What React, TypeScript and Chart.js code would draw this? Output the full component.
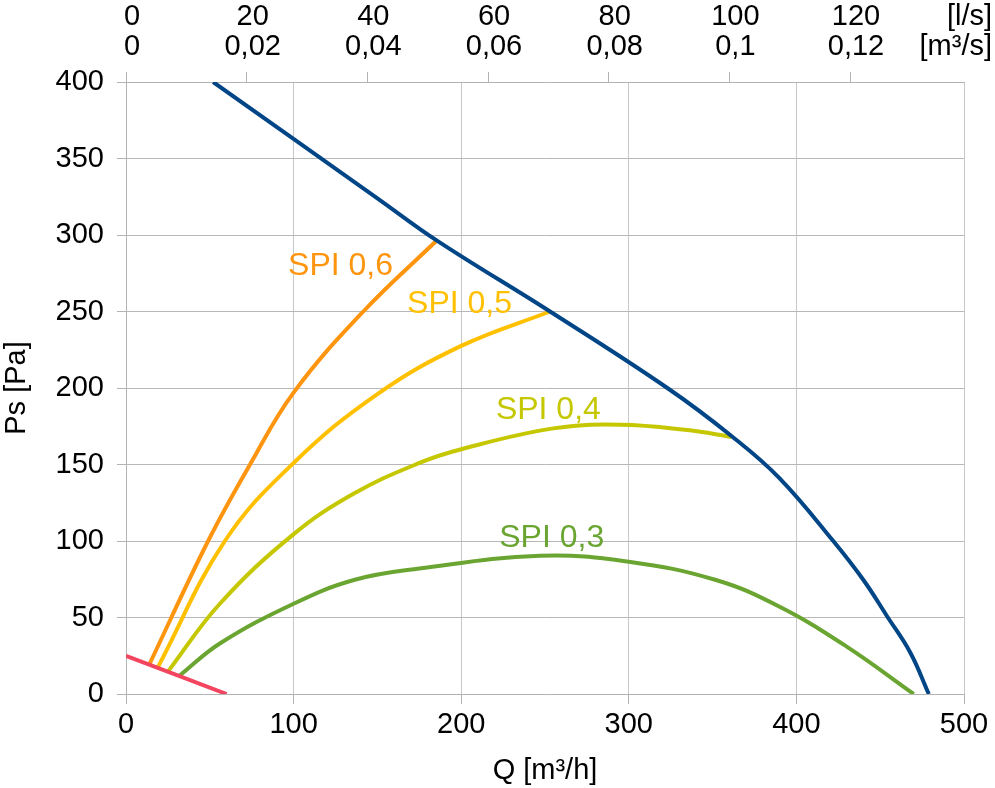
import { useEffect, useRef } from "react";
import { Chart, registerables } from "chart.js";

Chart.register(...registerables);

const FONT = "'Liberation Sans', Arial, sans-serif";

// Fan curve, Q [m³/h] / Ps [Pa]
const fanQ = [52, 150, 186, 253, 323, 362, 390, 422, 440, 454, 468, 479];
const fanPs = [400, 324, 296, 250, 200, 168, 141, 100, 74.5, 51, 27, 0];

// Minimum line (red)
const minQ = [0, 60];
const minPs = [25, 0];

// SPI curves
const spi06Q = [14, 49, 74, 100, 141.6, 185.7];
const spi06Ps = [19.5, 100, 150, 197, 250, 296.7];

const spi05Q = [19, 59, 100, 150, 200, 253];
const spi05Ps = [17.5, 100, 151, 196, 227.5, 250];

const spi04Q = [25, 56, 99.5, 136, 175, 200, 255, 295, 335, 361.5];
const spi04Ps = [14.6, 59, 104, 131, 151, 160, 173.6, 176, 172.5, 168];

const spi03Q = [32, 56, 100, 136, 175, 247, 300, 352, 390, 430, 470];
const spi03Ps = [12, 33, 59, 74.5, 82, 90.4, 86.5, 74.5, 57, 31, 0];

// curve labels (text, colour, anchor in data units)
const labelText = ["SPI 0,6", "SPI 0,5", "SPI 0,4", "SPI 0,3"];
const labelColor = ["#ff950e", "#ffc000", "#c5c700", "#6aa532"];
const labelQ = [128, 199, 252, 254];
const labelPs = [274, 249, 180, 96];

const toPoints = (q: number[], ps: number[]) => q.map((x, i) => ({ x, y: ps[i] }));

const line = (label: string, q: number[], ps: number[], color: string) => ({
  label,
  data: toPoints(q, ps),
  showLine: true,
  borderColor: color,
  backgroundColor: color,
  borderWidth: 4,
  pointRadius: 0,
  tension: 0.4,
});

const noPad = (s: any) => {
  s.paddingLeft = 0;
  s.paddingRight = 0;
  s.paddingTop = 0;
  s.paddingBottom = 0;
};

const textPlugin = {
  id: "texts",
  afterDraw(chart: any) {
    const { ctx, scales } = chart;
    ctx.save();
    // curve labels
    ctx.font = `32px ${FONT}`;
    ctx.textAlign = "center";
    ctx.textBaseline = "alphabetic";
    labelText.forEach((t, i) => {
      ctx.fillStyle = labelColor[i];
      ctx.fillText(t, scales.x.getPixelForValue(labelQ[i]), scales.y.getPixelForValue(labelPs[i]));
    });
    // units of the top axis
    const top = scales.x2;
    const y1 = top.bottom - 20 - 45;
    ctx.font = `29px ${FONT}`;
    ctx.fillStyle = "#000";
    ctx.textAlign = "right";
    ctx.textBaseline = "middle";
    ctx.fillText("[l/s]", 992, y1);
    ctx.fillText("[m³/s]", 992, y1 + 30);
    ctx.restore();
  },
};

export default function App() {
  const chartRef = useRef<HTMLCanvasElement>(null);

  useEffect(() => {
    const canvas = chartRef.current;
    if (!canvas) return;

    const chart = new Chart(canvas, {
      type: "scatter",
      data: {
        datasets: [
          line("Fan", fanQ, fanPs, "#004586"),
          line("Min", minQ, minPs, "#f44560"),
          line("SPI 0,6", spi06Q, spi06Ps, "#ff950e"),
          line("SPI 0,5", spi05Q, spi05Ps, "#ffc000"),
          line("SPI 0,4", spi04Q, spi04Ps, "#c5c700"),
          line("SPI 0,3", spi03Q, spi03Ps, "#6aa532"),
        ],
      },
      options: {
        animation: false,
        responsive: true,
        maintainAspectRatio: false,
        layout: { padding: { left: 0, right: 31, top: 0, bottom: 0 } },
        plugins: {
          legend: { display: false },
          tooltip: { enabled: false },
        },
        scales: {
          x: {
            type: "linear",
            position: "bottom",
            min: 0,
            max: 500,
            afterFit: (s: any) => {
              s.height = 94;
              noPad(s);
            },
            ticks: {
              stepSize: 100,
              autoSkip: false,
              maxRotation: 0,
              padding: 4,
              color: "#000",
              font: { family: FONT, size: 29 },
            },
            grid: { color: "#c8c8c8", tickColor: "#b3b3b3", tickLength: 10, lineWidth: 1 },
            border: { color: "#b3b3b3" },
            title: {
              display: true,
              text: "Q [m³/h]",
              color: "#000",
              padding: 0,
              font: { family: FONT, size: 29 },
            },
          },
          x2: {
            type: "linear",
            position: "top",
            min: 0,
            max: 500 / 3.6,
            afterFit: (s: any) => {
              s.height = 82;
              noPad(s);
            },
            ticks: {
              stepSize: 20,
              includeBounds: false,
              autoSkip: false,
              maxRotation: 0,
              padding: 10,
              labelOffset: 6,
              color: "#000",
              font: { family: FONT, size: 29, lineHeight: 30 / 29 },
              callback: (v: any) => {
                const n = Math.round(Number(v));
                return [String(n), String(n / 1000).replace(".", ",")];
              },
            },
            grid: { drawOnChartArea: false, color: "#b3b3b3", tickLength: 10 },
            border: { color: "#b3b3b3" },
          },
          y: {
            type: "linear",
            min: 0,
            max: 400,
            afterFit: (s: any) => {
              s.width = 126;
              noPad(s);
            },
            ticks: {
              stepSize: 50,
              padding: 13,
              color: "#000",
              font: { family: FONT, size: 29 },
            },
            grid: { color: "#b8b8b8", tickColor: "#b3b3b3", tickLength: 9 },
            border: { color: "#b3b3b3" },
            title: {
              display: true,
              text: "Ps [Pa]",
              color: "#000",
              padding: 0,
              font: { family: FONT, size: 29 },
            },
          },
        },
      },
      plugins: [textPlugin],
    });

    return () => {
      chart.destroy();
    };
  }, []);

  return (
    <div style={{ position: "fixed", left: 0, top: 0, width: 995, height: 788, background: "#fff" }}>
      <canvas ref={chartRef} />
    </div>
  );
}
